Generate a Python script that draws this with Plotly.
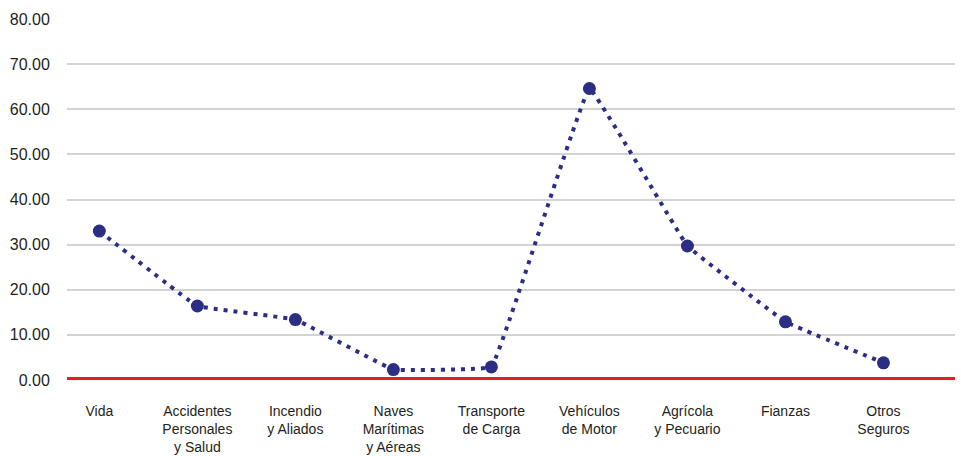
import plotly.graph_objects as go

categories = ["Vida", "Accidentes<br>Personales<br>y Salud", "Incendio<br>y Aliados",
              "Naves<br>Marítimas<br>y Aéreas", "Transporte<br>de Carga", "Vehículos<br>de Motor",
              "Agrícola<br>y Pecuario", "Fianzas", "Otros<br>Seguros"]
values = [33.0, 16.4, 13.4, 2.3, 2.9, 64.6, 29.7, 12.9, 3.8]
y_ticks = [0, 10, 20, 30, 40, 50, 60, 70, 80]

x_idx = list(range(len(categories)))

fig = go.Figure()
fig.add_trace(go.Scatter(
    x=x_idx, y=values, mode="lines+markers",
    line=dict(color="#2B2E83", width=4, dash="4px,6px", shape="spline", smoothing=0.15),
    marker=dict(color="#2B2E83", size=13),
    showlegend=False, cliponaxis=False,
))

fig.add_shape(type="line", xref="paper", yref="y", x0=0, x1=1, y0=0, y1=0,
              line=dict(color="#E31E24", width=6), layer="above")

fig.update_layout(
    width=961, height=456,
    margin=dict(l=67, r=6, t=19, b=76, autoexpand=False),
    paper_bgcolor="white", plot_bgcolor="white",
    font=dict(family="Liberation Sans, Arial, sans-serif", color="#231F20"),
    xaxis=dict(
        range=[-0.33, 8.73], tickvals=x_idx, ticktext=categories,
        showgrid=False, zeroline=False, showline=False, automargin=False,
        ticks="outside", ticklen=18, tickcolor="rgba(0,0,0,0)",
        tickfont=dict(size=14),
    ),
    yaxis=dict(
        range=[0, 80], tickvals=y_ticks, tickformat=".2f", automargin=False,
        showgrid=True, gridcolor="#D3D3D3", gridwidth=2,
        zeroline=False, showline=False,
        ticks="outside", ticklen=13, tickcolor="rgba(0,0,0,0)",
        tickfont=dict(size=16),
    ),
)

fig.write_html("out.html", config={"displayModeBar": False},
               post_script="document.body.style.margin='0';document.body.style.overflow='hidden';")
